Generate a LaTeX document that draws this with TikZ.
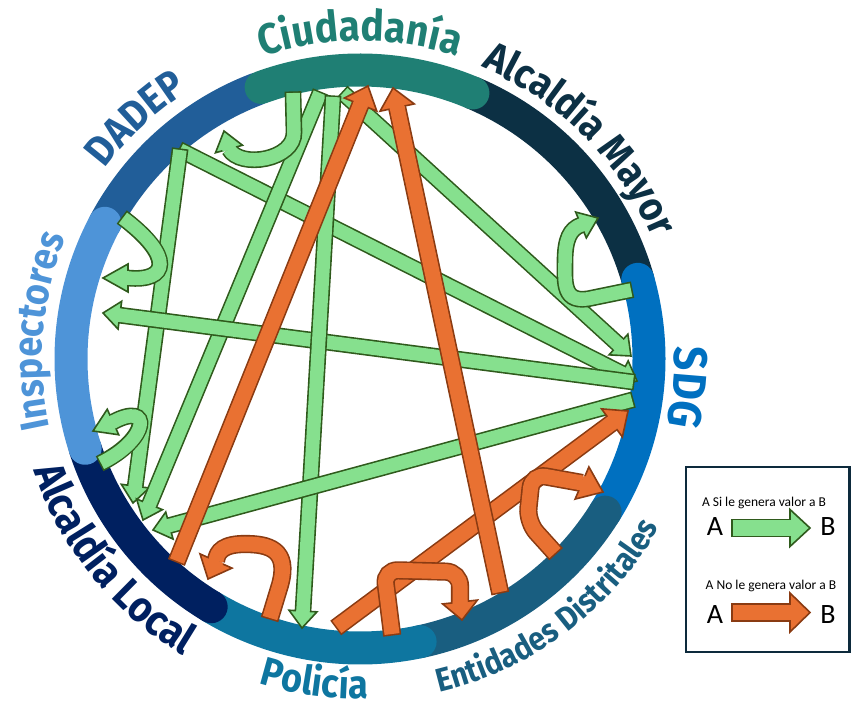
\documentclass[tikz,border=0pt]{standalone}
\usepackage{fontspec}
\usetikzlibrary{calc,decorations.text}
\newfontfamily\lblfont{Fira Sans}[FakeStretch=0.9]
\newfontfamily\legfont{Carlito}

\definecolor{cCiu}{HTML}{1F7F74}
\definecolor{cAMy}{HTML}{0C3044}
\definecolor{cSDG}{HTML}{0070C0}
\definecolor{cEnt}{HTML}{195E80}
\definecolor{cPol}{HTML}{0E76A0}
\definecolor{cALo}{HTML}{002060}
\definecolor{cIns}{HTML}{4E94D8}
\definecolor{cDAD}{HTML}{215E99}
\definecolor{gfill}{HTML}{86E08E}
\definecolor{gbord}{HTML}{2F5A1C}
\definecolor{ofill}{HTML}{E97132}
\definecolor{obord}{HTML}{8A3B12}
\definecolor{cLeg}{HTML}{0D2A3C}

\newcommand\fCiu{\lblfont\bfseries\fontsize{43pt}{43pt}\selectfont\color{cCiu}}
\newcommand\fAMy{\lblfont\bfseries\fontsize{41pt}{41pt}\selectfont\color{cAMy}}
\newcommand\fSDG{\lblfont\bfseries\fontsize{47pt}{47pt}\selectfont\color{cSDG}}
\newcommand\fEnt{\lblfont\bfseries\fontsize{33pt}{33pt}\selectfont\color{cEnt}}
\newcommand\fPol{\lblfont\bfseries\fontsize{40pt}{40pt}\selectfont\color{cPol}}
\newcommand\fALo{\lblfont\bfseries\fontsize{43pt}{43pt}\selectfont\color{cALo}}
\newcommand\fIns{\lblfont\bfseries\fontsize{40pt}{40pt}\selectfont\color{cIns}}
\newcommand\fDAD{\lblfont\bfseries\fontsize{42pt}{42pt}\selectfont\color{cDAD}}

% ring segment: colour, start angle, end angle
\newcommand\ringseg[3]{\draw[ringband, draw=#1] ([shift={(C)}]#2:289pt) arc[start angle=#2, end angle=#3, radius=289pt];}
% curved label: format, radius, start, end, text
\newcommand\ringlabel[5]{\path[decorate, decoration={text along path, text align=center, text={|#1|#5}}] ([shift={(C)}]#3:#2) arc[start angle=#3, end angle=#4, radius=#2];}

% block arrow parameters
\newcommand\greenarrows{\def\AF{gfill}\def\AB{gbord}\def\AW{13.5pt}\def\AH{14pt}\def\AL{17pt}}
\newcommand\orangearrows{\def\AF{ofill}\def\AB{obord}\def\AW{15pt}\def\AH{17.5pt}\def\AL{20pt}}
\newcommand\greenlegend{\def\AF{gfill}\def\AB{gbord}\def\AW{15.5pt}\def\AH{18.5pt}\def\AL{20pt}}
\newcommand\orangelegend{\def\AF{ofill}\def\AB{obord}\def\AW{15.5pt}\def\AH{19.5pt}\def\AL{20pt}}
% path (tail .. base), base, tip
\newcommand\pathblockarrow[3]{%
  \draw[draw=\AB, line width=\AW+3.2pt, shorten <=-1.6pt] #1;
  \filldraw[fill=\AF, draw=\AB, line width=1.6pt, line join=miter] ($(#2)!\AH!90:(#3)$) -- (#3) -- ($(#2)!\AH!-90:(#3)$) -- cycle;
  \draw[draw=\AF, line width=\AW] #1;
  \draw[draw=\AF, line width=\AW] ($(#2)!-1pt!(#3)$) -- ($(#2)!2.5pt!(#3)$);
}
% tail, tip
\newcommand\blockarrow[2]{%
  \coordinate (hb) at ($(#2)!\AL!(#1)$);
  \pathblockarrow{(#1) -- (hb)}{hb}{#2}%
}

\begin{document}
\begin{tikzpicture}[x=1pt,y=1pt]
\useasboundingbox (0,0) rectangle (851,707);
\tikzset{
  ringband/.style={line width=33pt, line cap=round},
  legsmall/.style={font=\legfont\fontsize{13.5pt}{15pt}\selectfont, inner sep=0pt},
  legbig/.style={font=\legfont\fontsize{28pt}{30pt}\selectfont, inner sep=0pt}
}
\coordinate (C) at (360,348);

% ---- ring ----
\ringseg{cDAD}{111}{152}
\ringseg{cAMy}{16}{67}
\ringseg{cSDG}{-32}{16}
\ringseg{cEnt}{-78}{-32}
\ringseg{cPol}{-121}{-78}
\ringseg{cALo}{198}{239}
\ringseg{cIns}{152}{198}
\ringseg{cCiu}{67}{110}

% ---- labels ----
\ringlabel{\fCiu}{318pt}{130}{50}{Ciudadanía}
\ringlabel{\fAMy}{316pt}{85}{5}{Alcaldía Mayor}
\ringlabel{\fSDG}{314pt}{35}{-45}{SDG}
\ringlabel{\fEnt}{343pt}{-93}{-13}{Entidades Distritales}
\ringlabel{\fPol}{340pt}{-138}{-58}{Policía}
\ringlabel{\fALo}{345pt}{179}{259}{Alcaldía Local}
\ringlabel{\fIns}{318pt}{215}{135}{Inspectores}
\ringlabel{\fDAD}{318pt}{173}{93}{DADEP}

% ---- arrow end points ----
\coordinate (gc1) at (320,614);
\coordinate (gc2) at (333,610);
\coordinate (gc3) at (343,614);
\coordinate (gd1) at (180,557);
\coordinate (gs3) at (633,325);
\coordinate (gs4) at (632,307);
\coordinate (gl1) at (143,187);
\coordinate (gl2) at (133,204);
\coordinate (gl3) at (153,177);
\coordinate (gp1) at (302,79);
\coordinate (gs1) at (631,351);
\coordinate (gs2) at (637,326);
\coordinate (gi1) at (103,394);
% green loops
\coordinate (u1s) at (293,614); \coordinate (u1b) at (229,558); \coordinate (u1t) at (224,576);
\coordinate (u2s) at (123,489); \coordinate (u2b) at (128,429); \coordinate (u2t) at (103,429);
\coordinate (u3s) at (101,244); \coordinate (u3b) at (113,285); \coordinate (u3t) at (93,276);
\coordinate (u4s) at (631,417); \coordinate (u4b) at (581,482); \coordinate (u4t) at (598,489);
% orange
\coordinate (ol1) at (177,146); \coordinate (oc1) at (368,621);
\coordinate (oe1) at (500,115); \coordinate (oc2) at (393,619);
\coordinate (op1) at (337,80);  \coordinate (os1) at (628,296);
\coordinate (v1s) at (270,89);  \coordinate (v1b) at (216,146); \coordinate (v1t) at (208,128);
\coordinate (v2s) at (392,73);  \coordinate (v2b) at (460,105); \coordinate (v2t) at (462,87);
\coordinate (v3s) at (555,154); \coordinate (v3b) at (582,224); \coordinate (v3t) at (603,215);

% ---- green arrows ----
\greenarrows
\blockarrow{gd1}{gs2}
\blockarrow{gd1}{gl2}
\blockarrow{gc3}{gs1}
\blockarrow{gc1}{gl1}
\blockarrow{gs3}{gi1}
\blockarrow{gc2}{gp1}
\blockarrow{gs4}{gl3}
\pathblockarrow{(u1s) -- (294,575) .. controls (295,547) and (240,538) .. (u1b)}{u1b}{u1t}
\pathblockarrow{(u2s) .. controls (175,450) and (168,425) .. (u2b)}{u2b}{u2t}
\pathblockarrow{(u3s) .. controls (150,268) and (152,306) .. (u3b)}{u3b}{u3t}
\pathblockarrow{(u4s) -- (592,409) .. controls (562,402) and (565,425) .. (565,445) .. controls (565,468) and (570,478) .. (u4b)}{u4b}{u4t}

% ---- orange arrows ----
\orangearrows
\blockarrow{op1}{os1}
\blockarrow{ol1}{oc1}
\blockarrow{oe1}{oc2}
\pathblockarrow{(v1s) -- (280,122) .. controls (290,158) and (268,163) .. (245,163) .. controls (224,163) and (217,156) .. (v1b)}{v1b}{v1t}
\pathblockarrow{(v2s) [rounded corners=14pt] -- (384,137) -- (460,135) -- (v2b)}{v2b}{v2t}
\pathblockarrow{(v3s) [rounded corners=14pt] -- (527,185) -- (532,233) -- (v3b)}{v3b}{v3t}

% ---- legend ----
\draw[line width=2.5pt, draw=cLeg] (686,55) rectangle (849.5,240);
\node[legsmall] (t1) at (764,204) {A Si le genera valor a B};
\node[legbig] (a1) at (715,180) {A};
\node[legbig] (b1) at (828,180) {B};
\coordinate (l1s) at (733,179); \coordinate (l1t) at (810,179);
\greenlegend
\blockarrow{l1s}{l1t}
\node[legsmall] (t2) at (771,121) {A No le genera valor a B};
\node[legbig] (a2) at (715,92) {A};
\node[legbig] (b2) at (828,92) {B};
\coordinate (l2s) at (733,94.5); \coordinate (l2t) at (810,94.5);
\orangelegend
\blockarrow{l2s}{l2t}
\end{tikzpicture}
\end{document}
